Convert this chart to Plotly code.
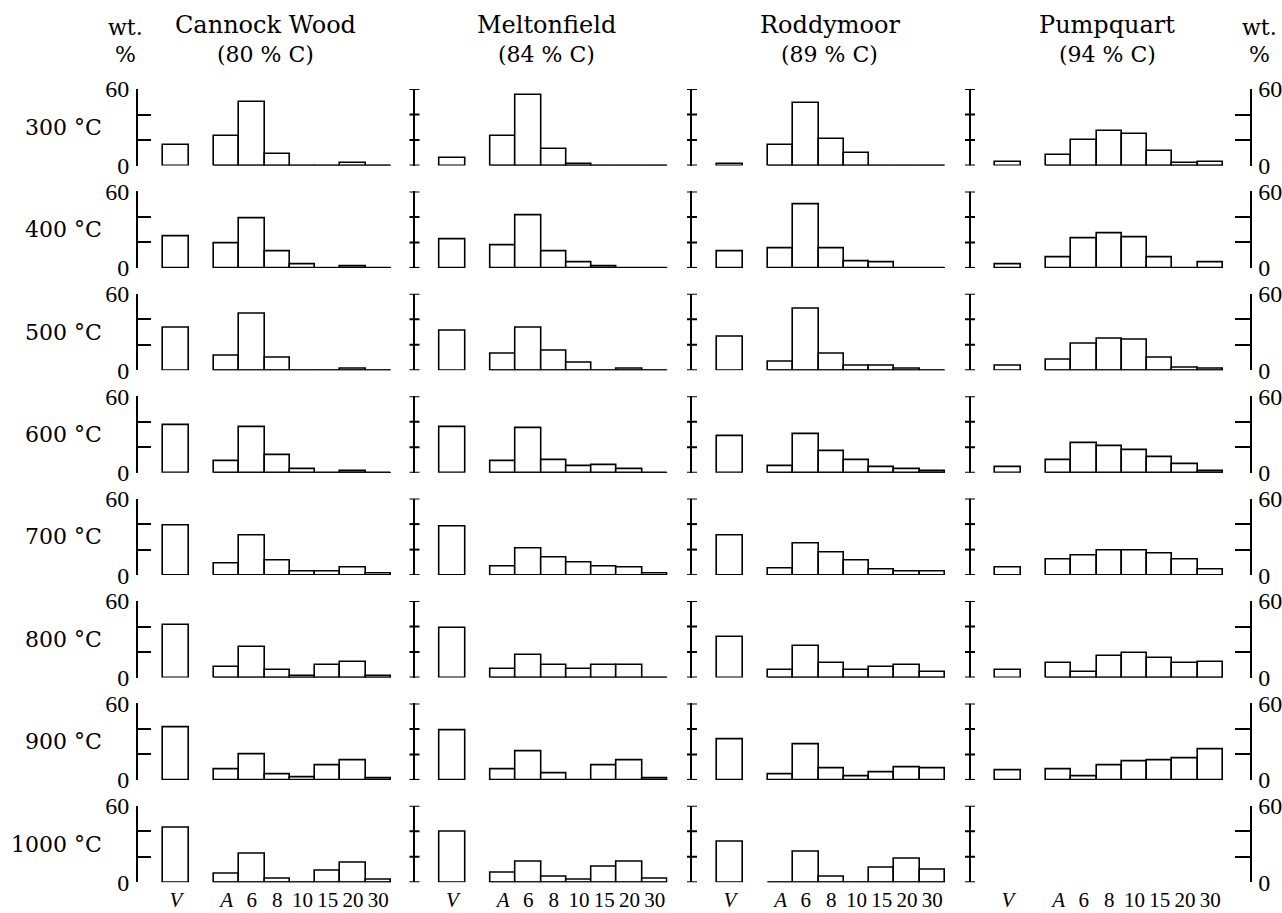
import plotly.graph_objects as go

# ---------------- data ----------------
temperatures = ["300 °C", "400 °C", "500 °C", "600 °C", "700 °C", "800 °C", "900 °C", "1000 °C"]
coals = ["Cannock Wood", "Meltonfield", "Roddymoor", "Pumpquart"]
carbon = ["(80 % C)", "(84 % C)", "(89 % C)", "(94 % C)"]
fractions = ["V", "A", "6", "8", "10", "15", "20", "30"]
fraction_labels = ["<i>V</i>", "<i>A</i>", "6", "8", "10", "15", "20", "30"]
fraction_pos = [0, 2, 3, 4, 5, 6, 7, 8]

# wt. % per fraction (V, A, 6, 8, 10, 15, 20, 30), one row per temperature
cannock_wood = [
    [16, 23, 50, 9, -2, 0, 2, 0],
    [25, 19, 39, 13, 3, -1, 1, 0],
    [33, 11, 44, 10, 0, 0, 1, 0],
    [37, 9, 36, 14, 3, 0, 1.5, 0],
    [39, 9, 31, 11, 3, 3, 5.5, 1.5],
    [41, 8, 24, 5.5, 1, 9.5, 12.5, 1],
    [41, 8.5, 20, 4, 2, 11, 15, 1.5],
    [43, 7, 22, 3, -1.5, 9, 15, 2],
]
meltonfield = [
    [6, 23, 55, 13, 1, 0, 0, 0],
    [22, 18, 41, 13, 4, 1, 0, 0],
    [31, 13, 33, 15, 6, 0, 1.5, 0],
    [36, 9, 35, 10, 5, 6, 2.5, 0],
    [38, 7, 21, 14, 9.5, 7, 5.5, 1],
    [39, 7, 18, 10, 7, 9.5, 10, 0],
    [39, 8, 22, 5, 0, 11, 15, 1.5],
    [40, 7.5, 16, 4, 2, 12.5, 16, 2.5],
]
roddymoor = [
    [1, 16, 49, 21, 10, 0, 0, 0],
    [13, 15, 50, 15, 5, 4, 0, 0],
    [26, 7, 48, 13, 3.5, 3.5, 1.5, 0],
    [29, 5, 30, 17, 10, 4, 2.5, 1],
    [31, 5, 25, 18, 11, 4, 2.5, 3],
    [32, 5.5, 25, 11, 6, 8.5, 10, 4],
    [31.5, 4.5, 28, 9, 2.5, 5.5, 10, 9],
    [32, 0, 24, 4, 0, 11, 18.5, 9.5],
]
pumpquart = [
    [3, 8, 20, 27, 25, 11, 2, 3],
    [3, 8, 23, 27, 24, 8, 0, 4],
    [3.5, 8, 21, 25, 24, 10, 2, 1.5],
    [4, 10, 23, 21, 18, 12, 7, 1.5],
    [6, 12, 15, 19, 19.5, 16.5, 12, 4.5],
    [5.5, 11, 4.5, 16.5, 19.5, 15.5, 11, 12],
    [7.5, 8, 3, 11.5, 14.5, 15.5, 17, 24],
    None,
]
all_data = [cannock_wood, meltonfield, roddymoor, pumpquart]

y_ticks = [0, 20, 40, 60]
y_ticktext = ["0", "", "", "60"]

# ---------------- layout geometry ----------------
W, H = 1282, 913
UNIT = 25.3
col_left = [138, 414.5, 692, 970]
x_ranges = [(-1.5, 8.5), (-1.5, 8.5), (-1.5, 8.5), (-1.5, 9.55)]
zero0, pitch, ph = 165.5, 102.4, 76.5

SERIF = "DejaVu Serif"
NUMF = "Liberation Serif"

layout = dict(
    width=W, height=H,
    margin=dict(l=0, r=0, t=0, b=0, autoexpand=False),
    paper_bgcolor="white", plot_bgcolor="rgba(0,0,0,0)",
    showlegend=False,
    font=dict(family=SERIF, color="black"),
    bargap=0,
)
traces = []
annotations = []
shapes = []

for r in range(8):
    zpx = zero0 + r * pitch
    ydom = [1 - zpx / H, 1 - (zpx - ph) / H]
    for c in range(4):
        k = r * 4 + c + 1
        xn = "x" if k == 1 else f"x{k}"
        yn = "y" if k == 1 else f"y{k}"
        xa = "xaxis" if k == 1 else f"xaxis{k}"
        ya = "yaxis" if k == 1 else f"yaxis{k}"
        x0, x1 = x_ranges[c]
        wpx = (x1 - x0) * UNIT
        layout[xa] = dict(
            domain=[col_left[c] / W, (col_left[c] + wpx) / W],
            range=[x0, x1], anchor=yn, automargin=False,
            showgrid=False, zeroline=False, showline=False, ticks="",
            showticklabels=(r == 7),
            tickmode="array", tickvals=fraction_pos, ticktext=fraction_labels,
            tickfont=dict(family=NUMF, size=21, color="black"),
            ticklabelstandoff=3,
        )
        base = dict(
            domain=ydom, range=[0, 60], anchor=xn, automargin=False,
            showgrid=False, zeroline=False,
            tickmode="array", tickvals=y_ticks,
            linecolor="black", tickcolor="black",
        )
        if c == 0:
            base.update(side="left", showline=True, linewidth=2, ticks="inside", ticklen=13,
                        tickwidth=1.6, ticktext=y_ticktext, showticklabels=True,
                        tickfont=dict(family=NUMF, size=24, color="black"),
                        ticklabelstandoff=2)
        elif c < 3:
            base.update(side="left", showline=True, linewidth=2, ticks="", showticklabels=False)
        else:
            base.update(side="right", showline=True, linewidth=2, ticks="inside", ticklen=15,
                        tickwidth=1.6, ticktext=y_ticktext, showticklabels=True,
                        tickfont=dict(family=NUMF, size=24, color="black"),
                        ticklabelstandoff=2)
        layout[ya] = base

        dref = f"{xn} domain"
        if c == 3:
            # left separator axis line for the last column
            shapes.append(dict(type="line", xref=dref, yref=yn, x0=0, x1=0, y0=0, y1=60,
                               line=dict(color="black", width=2)))
        if c > 0:
            for v in y_ticks:
                shapes.append(dict(type="line", xref=dref, yref=yn, xsizemode="pixel",
                                   xanchor=0, x0=-5, x1=5, y0=v, y1=v,
                                   line=dict(color="black", width=2)))

        vals = all_data[c][r]
        if vals is not None:
            traces.append(go.Scatter(
                x=[1.5, 8.5], y=[0, 0], mode="lines",
                line=dict(color="black", width=1.6),
                xaxis=xn, yaxis=yn, cliponaxis=False, hoverinfo="skip"))
            traces.append(go.Bar(
                x=fraction_pos, y=vals, width=1,
                marker=dict(color="white", line=dict(color="black", width=1.6)),
                xaxis=xn, yaxis=yn, cliponaxis=False,
                name=coals[c], hovertemplate="%{y}<extra></extra>"))
        else:
            traces.append(go.Scatter(x=[None], y=[None], xaxis=xn, yaxis=yn,
                                     hoverinfo="skip", showlegend=False))

    annotations.append(dict(
        x=104 / W, y=1 - (zpx - ph / 2) / H, xref="paper", yref="paper",
        text=temperatures[r], showarrow=False, xanchor="right", yanchor="middle",
        font=dict(family=SERIF, size=22, color="black")))

title_x = [265, 546, 830, 1107]
for c in range(4):
    annotations.append(dict(x=title_x[c] / W, y=1 - 25 / H, xref="paper", yref="paper",
                            text=coals[c], showarrow=False, xanchor="center", yanchor="middle",
                            font=dict(family=SERIF, size=24, color="black")))
    annotations.append(dict(x=title_x[c] / W, y=1 - 55 / H, xref="paper", yref="paper",
                            text=carbon[c], showarrow=False, xanchor="center", yanchor="middle",
                            font=dict(family=SERIF, size=22, color="black")))

for xx in (125, 1259):
    annotations.append(dict(x=xx / W, y=1 - 27 / H, xref="paper", yref="paper",
                            text="wt.", showarrow=False, xanchor="center", yanchor="middle",
                            font=dict(family=SERIF, size=22, color="black")))
    annotations.append(dict(x=xx / W, y=1 - 55 / H, xref="paper", yref="paper",
                            text="%", showarrow=False, xanchor="center", yanchor="middle",
                            font=dict(family=SERIF, size=22, color="black")))

layout["annotations"] = annotations
layout["shapes"] = shapes
fig = go.Figure(data=traces, layout=layout)
fig.write_html("out.html")
